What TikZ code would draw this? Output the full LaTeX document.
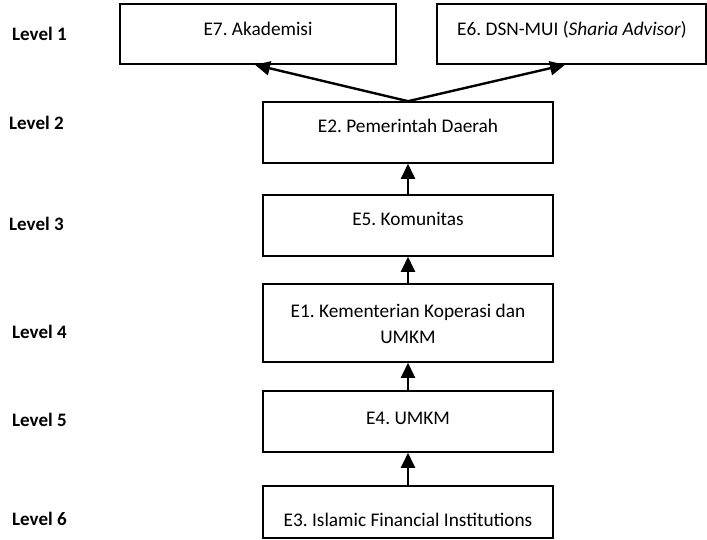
\documentclass[tikz,border=0pt]{standalone}
\usepackage{fontspec}
\setmainfont{Carlito}
\frenchspacing
\usetikzlibrary{arrows.meta}
\tikzset{
  box/.style={draw, line width=1.6pt, inner sep=0pt, minimum height=61pt, minimum width=290pt},
  boxtext/.style={anchor=base, inner sep=0pt, font=\fontsize{19.3}{26}\selectfont},
  lvl/.style={anchor=base west, inner sep=0pt, font=\fontsize{19}{26}\selectfont\bfseries},
  flow/.style={line width=2.4pt, -{Triangle[length=15pt,width=14pt]}}
}
\begin{document}
\begin{tikzpicture}[x=1pt,y=-1pt]
\useasboundingbox (0,0) rectangle (707,540);
% level captions
\node[lvl] (l1) at (12,41) {Level 1};
\node[lvl] (l2) at (9,130) {Level 2};
\node[lvl] (l3) at (9,231) {Level 3};
\node[lvl] (l4) at (12,338) {Level 4};
\node[lvl] (l5) at (12,426) {Level 5};
\node[lvl] (l6) at (12,525) {Level 6};
% boxes
\node[box, minimum width=276pt, minimum height=60pt] (e7) at (258,34) {};
\node[box, minimum width=269pt, minimum height=60pt] (e6) at (571.5,34) {};
\node[box] (e2) at (408,132.5) {};
\node[box] (e5) at (408,225.5) {};
\node[box, minimum height=78pt] (e1) at (408,323) {};
\node[box] (e4) at (408,421.5) {};
\node[box, minimum height=52pt] (e3) at (408,512) {};
% box texts
\node[boxtext] (t7) at (258,36) {E7. Akademisi};
\node[boxtext] (t6) at (572,36) {E6. DSN-MUI (\textit{Sharia Advisor})};
\node[boxtext] (t2) at (408,133) {E2. Pemerintah Daerah};
\node[boxtext] (t5) at (408,226) {E5. Komunitas};
\node[boxtext] (t1a) at (408,317) {E1. Kementerian Koperasi dan};
\node[boxtext] (t1b) at (408,343) {UMKM};
\node[boxtext] (t4) at (408,424) {E4. UMKM};
\node[boxtext] (t3) at (408,526) {E3. Islamic Financial Institutions};
% connectors
\draw[flow] (e3.north) -- (e4.south);
\draw[flow] (e4.north) -- (e1.south);
\draw[flow] (e1.north) -- (e5.south);
\draw[flow] (e5.north) -- (e2.south);
\draw[flow] (e2.north) -- ([xshift=-3pt]e7.south);
\draw[flow] (e2.north) -- ([xshift=-6.5pt]e6.south);
\end{tikzpicture}
\end{document}
